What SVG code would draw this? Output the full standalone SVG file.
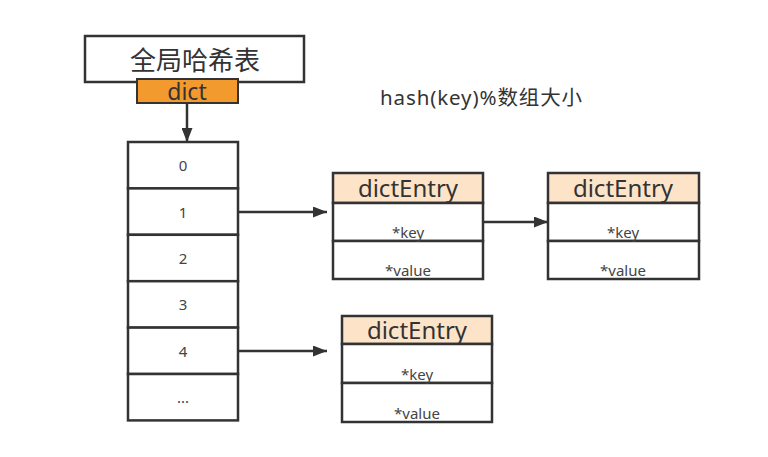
<svg xmlns="http://www.w3.org/2000/svg" width="768" height="457" viewBox="0 0 768 457">
<style>
.box{fill:#fff;stroke:#333;stroke-width:2.5}
.hdr{fill:#fde4c9;stroke:#333;stroke-width:2.5}
.t{font-family:"Noto Sans","Noto Sans CJK SC",sans-serif;fill:#333;text-anchor:middle}
.num{font-size:15px;fill:#444}
.ent{font-size:24px}
.fld{font-size:15px;fill:#444}
.con{stroke:#333;stroke-width:2.5;fill:none;marker-end:url(#ah)}
</style>
<defs>
<marker id="ah" viewBox="0 0 10 10" refX="10" refY="5" markerWidth="14" markerHeight="11" markerUnits="userSpaceOnUse" orient="auto" preserveAspectRatio="none"><path d="M0,0 L10,5 L0,10 z" fill="#333"/></marker>
</defs>
<rect width="768" height="457" fill="#fff"/>
<g id="title">
<rect class="box" x="85" y="36" width="219" height="46"/>
<text class="t" x="195" y="70" font-size="26">全局哈希表</text>
</g>
<g id="dict">
<rect x="137" y="79" width="101" height="24" fill="#f39a2e" stroke="#333" stroke-width="2"/>
<text class="t" x="187" y="100" font-size="23">dict</text>
</g>
<g id="note">
<text class="t" x="380" y="105" font-size="20.5" textLength="202" style="text-anchor:start">hash(key)%数组大小</text>
</g>
<g id="table">
<rect class="box" x="128" y="142" width="110" height="46.4"/>
<rect class="box" x="128" y="188.4" width="110" height="46.4"/>
<rect class="box" x="128" y="234.8" width="110" height="46.4"/>
<rect class="box" x="128" y="281.2" width="110" height="46.4"/>
<rect class="box" x="128" y="327.6" width="110" height="46.4"/>
<rect class="box" x="128" y="374" width="110" height="46.4"/>
<text class="t num" x="183" y="171">0</text>
<text class="t num" x="183" y="218">1</text>
<text class="t num" x="183" y="264">2</text>
<text class="t num" x="183" y="310">3</text>
<text class="t num" x="183" y="357">4</text>
<text class="t num" x="183" y="403">...</text>
</g>
<g id="entry1">
<rect class="hdr" x="333" y="173" width="150" height="30"/>
<rect class="box" x="333" y="203" width="150" height="38"/>
<rect class="box" x="333" y="241" width="150" height="38"/>
<text class="t ent" x="408" y="197">dictEntry</text>
<text class="t fld" x="408" y="238">*key</text>
<text class="t fld" x="408" y="276">*value</text>
</g>
<g id="entry2">
<rect class="hdr" x="548" y="173" width="151" height="30"/>
<rect class="box" x="548" y="203" width="151" height="38"/>
<rect class="box" x="548" y="241" width="151" height="38"/>
<text class="t ent" x="623" y="197">dictEntry</text>
<text class="t fld" x="623" y="238">*key</text>
<text class="t fld" x="623" y="276">*value</text>
</g>
<g id="entry3">
<rect class="hdr" x="342" y="316" width="150" height="28"/>
<rect class="box" x="342" y="344" width="150" height="39"/>
<rect class="box" x="342" y="383" width="150" height="39"/>
<text class="t ent" x="417" y="339">dictEntry</text>
<text class="t fld" x="417" y="380">*key</text>
<text class="t fld" x="417" y="419">*value</text>
</g>
<g id="connectors">
<line class="con" x1="187" y1="103" x2="187" y2="142"/>
<line class="con" x1="239" y1="212" x2="327" y2="212"/>
<line class="con" x1="239" y1="351" x2="327" y2="351"/>
<line class="con" x1="483" y1="222" x2="548" y2="222"/>
</g>
</svg>
